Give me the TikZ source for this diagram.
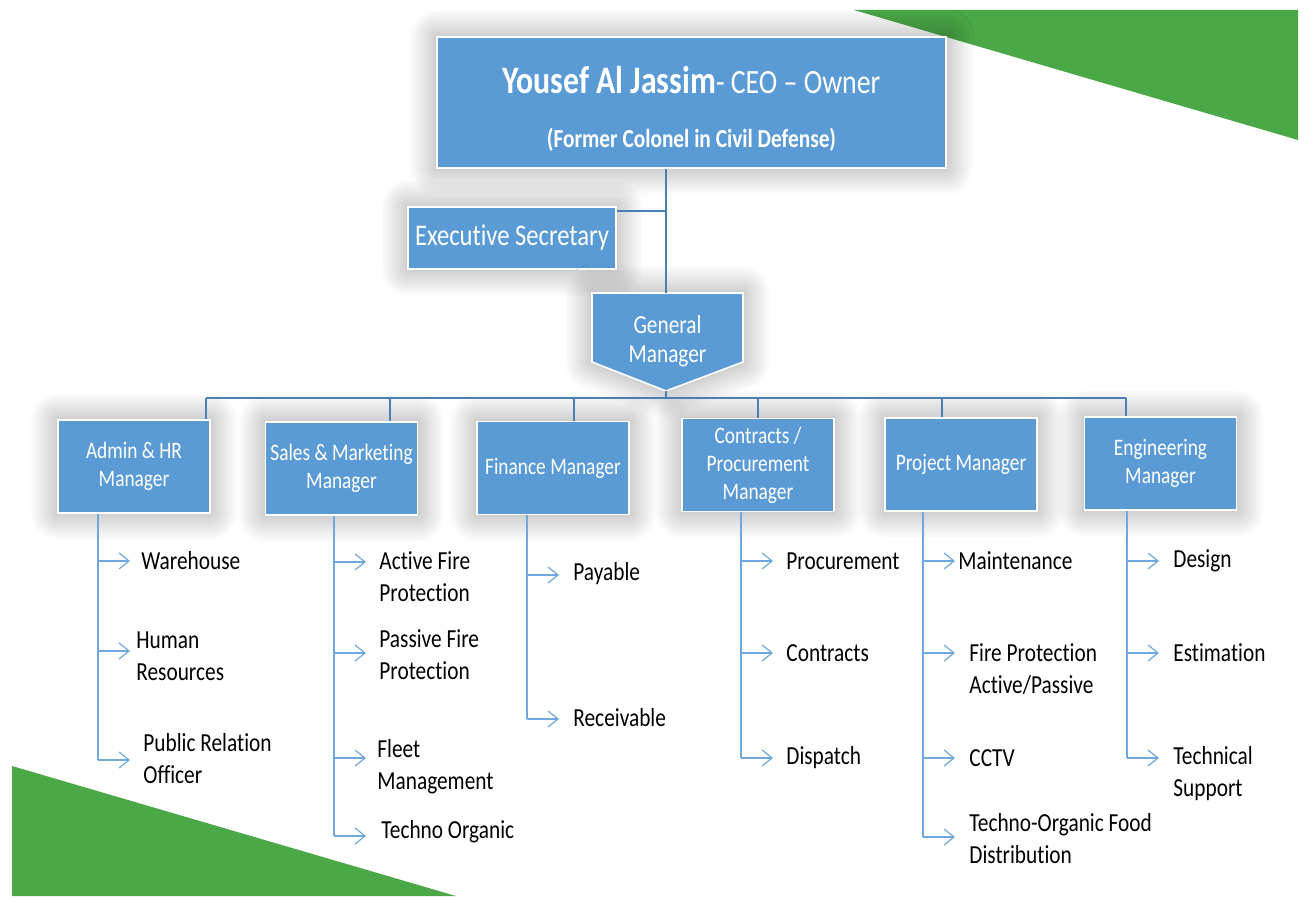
\documentclass[tikz,border=0pt]{standalone}
\usepackage{fontspec}
\setmainfont{Carlito}[FakeStretch=0.82, Ligatures={NoCommon}]
\usetikzlibrary{arrows.meta,shadows.blur}

\definecolor{boxblue}{HTML}{5B9BD5}
\definecolor{busblue}{HTML}{4A7EB5}
\definecolor{leafblue}{HTML}{6FA8DC}
\definecolor{cornergreen}{HTML}{4AA846}

\tikzset{
  boxlook/.style={fill=boxblue, draw=white, line width=0.8pt,
    blur shadow={shadow xshift=0pt, shadow yshift=0pt, shadow blur radius=14pt,
      shadow blur steps=14, shadow opacity=40}},
  box/.style={boxlook, rectangle, text=white, align=center, inner sep=0pt},
  headbox/.style={box, minimum width=76pt, minimum height=46.5pt, font=\fontsize{11.8}{14}\selectfont},
  busline/.style={busblue, line width=1pt},
  leafline/.style={leafblue, line width=0.6pt},
  leafarrow/.style={leafline, -{Straight Barb[length=5pt,width=8pt]}},
  leaf/.style={anchor=west, inner sep=0pt, align=left, font=\fontsize{13}{16}\selectfont},
}

\begin{document}
\begin{tikzpicture}[x=0.5pt, y=-0.5pt]
    \useasboundingbox (0,0) rectangle (1306,899);
    %% green corners
    \fill[cornergreen] (854,10) -- (1298,10) -- (1298,140) -- cycle;
    \fill[cornergreen] (12,766) -- (12,896) -- (456,896) -- cycle;
    %% owner and secretary
    \node[box, minimum width=254.5pt, minimum height=65.5pt] (ceo) at (691.5,102.5) {};
    \node[text=white, align=center, inner sep=0pt, font=\fontsize{13}{27}\selectfont] (ceo text) at ([yshift=-3.2pt]ceo.center)
      {{\fontsize{19.4}{27}\selectfont\bfseries Yousef Al Jassim}{\fontsize{17}{27}\selectfont- CEO -- Owner}\\
       {\bfseries (Former Colonel in Civil Defense)}};
    \node[box, minimum width=104pt, minimum height=31pt, font=\fontsize{15}{18}\selectfont] (es) at (512,238) {Executive Secretary};
    %% general manager
    \path[boxlook] (592,293) -- (743,293) -- (743,362) -- (666,391) -- (592,362) -- cycle;
    \node[text=white, align=center, inner sep=0pt, font=\fontsize{13}{14.5}\selectfont] (gm) at (667.5,341.5) {General\\Manager};
    \coordinate (gm top) at (666,293);
    \coordinate (gm tip) at (666,391);
    %% managers
    \foreach \n/\cx/\cy/\txt in {adm/134/466.5/{Admin \& HR\\Manager}, sal/341.5/468.5/{Sales \& Marketing\\Manager},
      fin/553/468/{Finance Manager}, con/758/465/{Contracts /\\Procurement\\Manager},
      prj/961/464.5/{Project Manager}, eng/1160.5/463.5/{Engineering\\Manager}}
      \node[headbox] (\n) at (\cx,\cy) {\txt};
    %% bus lines
    \draw[busline] (gm top |- ceo.south) -- (gm top);
    \draw[busline] ([yshift=-2.5pt]es.north east) -- ([yshift=-2.5pt]es.north east -| gm top);
    \draw[busline] (gm tip) -- (gm tip |- 0,398);
    \draw[busline] (206,398) -- (1126,398);
    \foreach \n/\dx in {adm/206, sal/390, fin/574, con/758, prj/942, eng/1126}
      \draw[busline] (\dx,398) -- (\dx,398 |- \n.north);
    %% spines
    \foreach \n/\sx/\last in {adm/98/760, sal/334/836, fin/527/719, con/741/758, prj/923/837, eng/1127/758}
      \draw[leafline] (\sx,0 |- \n.south) -- (\sx,\last);
    %% leaves
    \foreach \n/\sx/\ay/\tx/\ty/\txt in {
      adm1/98/561/141/561/Warehouse, adm2/98/651/136/656/{Human\\Resources},
      adm3/98/760/143/759/{Public Relation\\Officer},
      sal1/334/562/379/577/{Active Fire\\Protection}, sal2/334/653/379/655/{Passive Fire\\Protection},
      sal3/334/758/377/767/{Fleet\\Management}, sal4/334/836/381/832/{Techno Organic},
      fin1/527/575/573/574/Payable, fin2/527/719/573/718/Receivable,
      con1/741/561/786/561/Procurement, con2/741/653/786/653/Contracts, con3/741/758/786/758/Dispatch,
      prj1/923/561/958/561/Maintenance, prj2/923/653/969/669/{Fire Protection\\Active/Passive},
      prj3/923/758/969/758/CCTV, prj4/923/837/969/839/{Techno-Organic Food\\Distribution},
      eng1/1127/561/1173/561/Design, eng2/1127/653/1173/653/Estimation,
      eng3/1127/758/1173/774/{Technical\\Support}}
    {
      \node[leaf] (\n) at (\tx,\ty) {\txt};
      \draw[leafarrow] (\sx,\ay) -- (\sx+32,\ay);
    }
\end{tikzpicture}
\end{document}
